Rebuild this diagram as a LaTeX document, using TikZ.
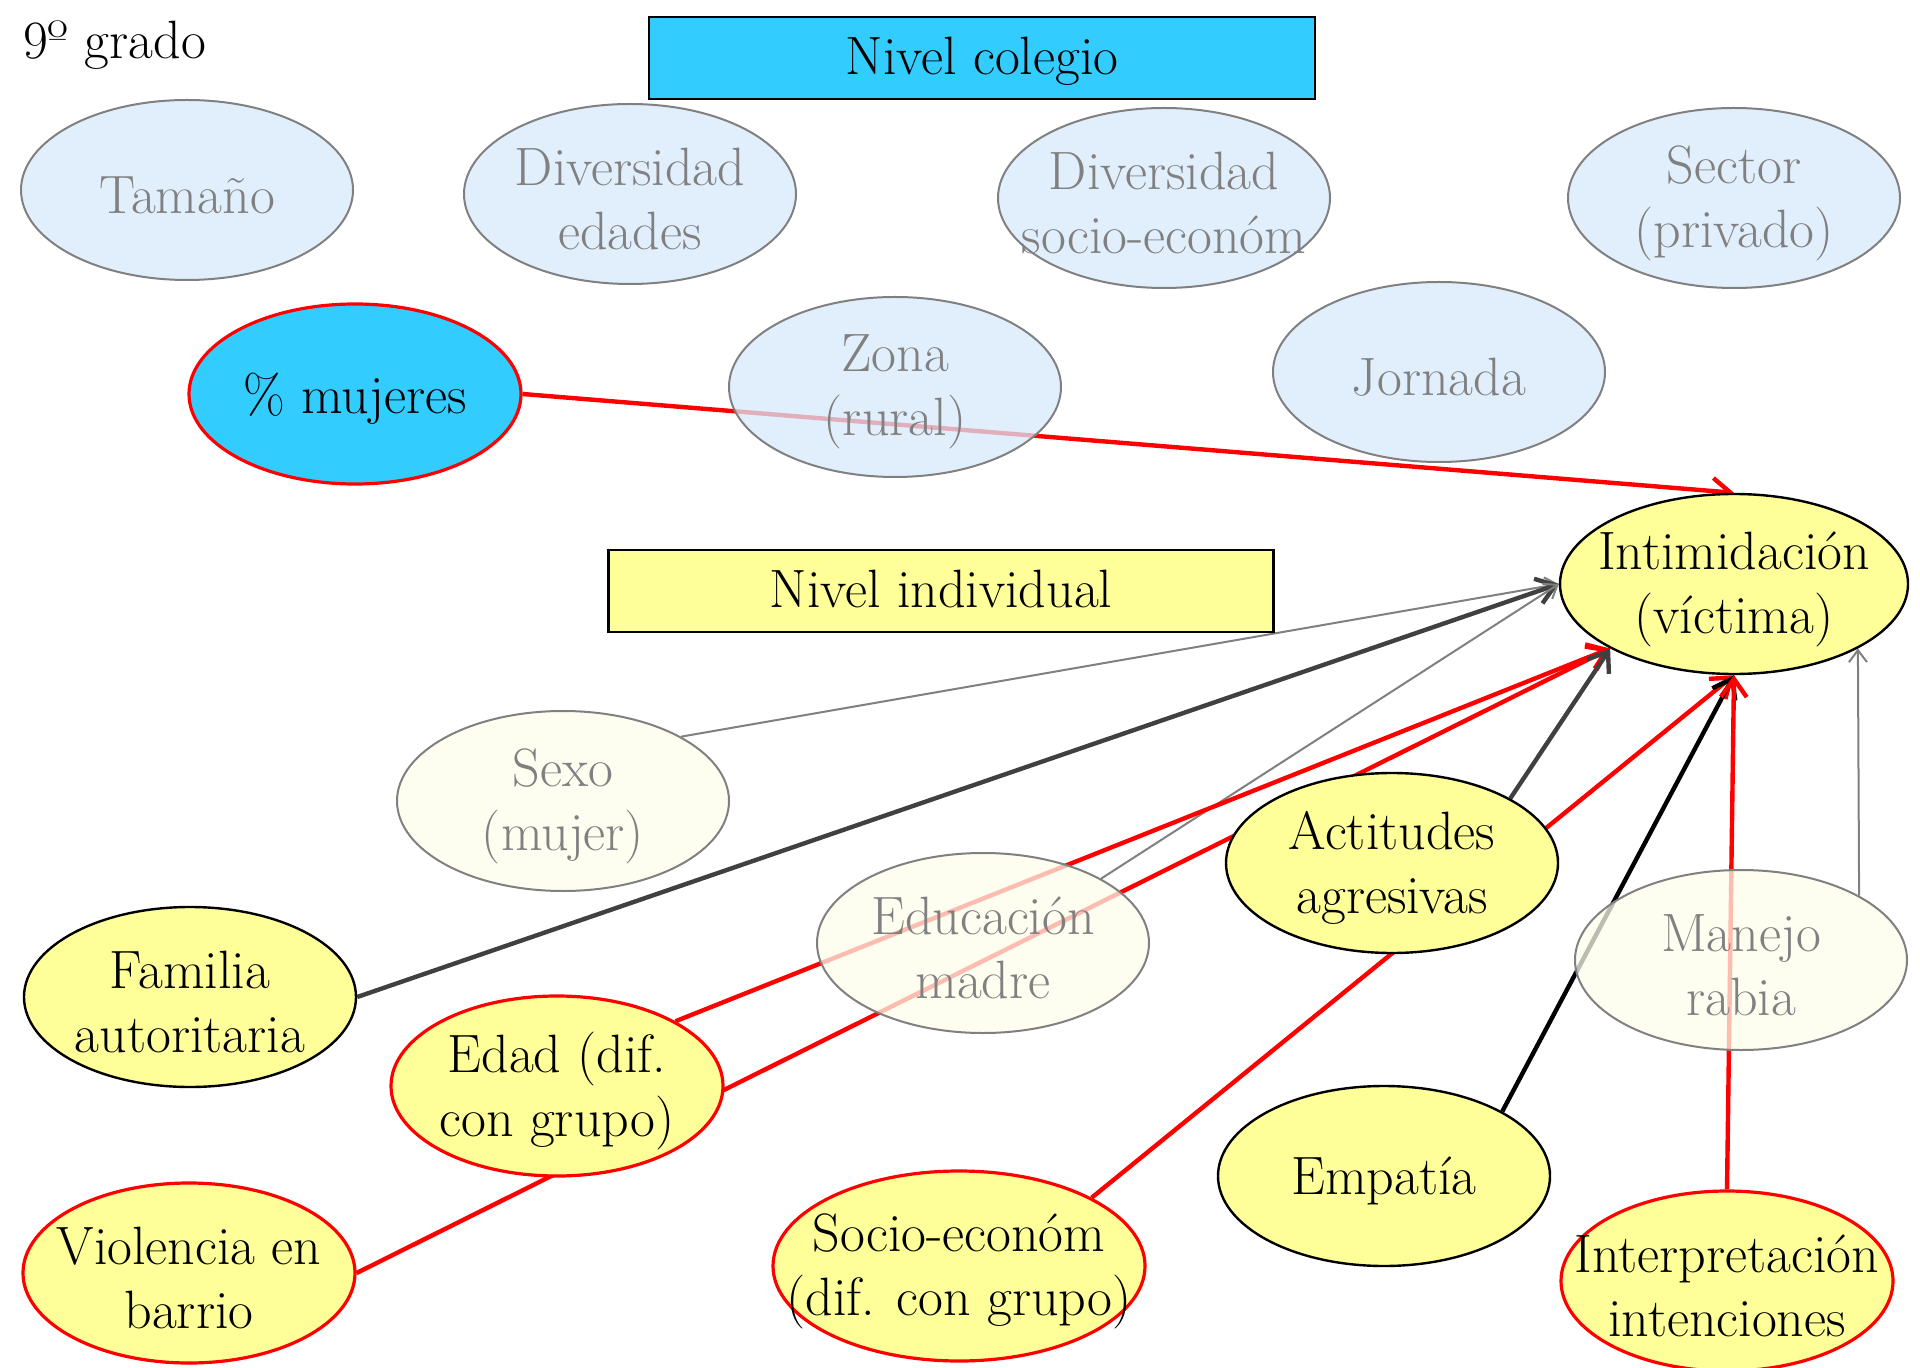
\documentclass[tikz,border=0pt]{standalone}
\usetikzlibrary{shapes.geometric,arrows.meta,backgrounds}
\definecolor{celeste}{HTML}{33CCFF}
\definecolor{amarillo}{HTML}{FFFF99}
\definecolor{azulclaro}{HTML}{D7EAFC}
\definecolor{crema}{HTML}{FCFCEB}
\definecolor{gris}{HTML}{808080}
\definecolor{grisosc}{HTML}{404040}
\newcommand{\txtgrande}{\fontsize{27}{32}\selectfont}

\begin{document}
\begin{tikzpicture}[x=0.5pt,y=-0.5pt,
            every node/.style={font=\txtgrande,align=center},
            every label/.style={font=\txtgrande,align=center,yshift=-2.5pt},
            elip/.style={ellipse,minimum width=166pt,minimum height=90pt,inner sep=0pt},
            colegio/.style={elip,draw=gris,line width=1pt,fill=azulclaro,fill opacity=0.75,label={[text=gris]center:#1}},
            tenue/.style={elip,draw=gris,line width=1pt,fill=crema,fill opacity=0.75,label={[text=gris]center:#1}},
            indiv/.style={elip,draw=black,line width=1.2pt,fill=amarillo,label={center:#1}},
            indivroja/.style={elip,draw=red,line width=1.6pt,fill=amarillo,label={center:#1}},
            caja/.style={draw=black,line width=1.2pt,minimum height=41pt,inner sep=0pt,text height=22pt,text depth=5pt},
            roja/.style={draw=red,line width=2.2pt,-{Straight Barb[length=9pt,width=13pt]}},
            oscura/.style={draw=grisosc,line width=2.2pt,-{Straight Barb[length=9pt,width=13pt]}},
            negra/.style={draw=black,line width=2.2pt,-{Straight Barb[length=9pt,width=13pt]}},
            fina/.style={draw=gris,line width=1pt,-{Straight Barb[length=6pt,width=9pt]}}]
            \useasboundingbox (0,0) rectangle (1920,1368);
            \node[anchor=base west] (grado) at (16,59) {9º grado};
            \node[caja,fill=celeste,minimum width=333pt] (nivcol) at (982,58) {Nivel colegio};
            \node[caja,fill=amarillo,minimum width=332.5pt] (nivind) at (941,591) {Nivel individual};
            \node[colegio={Tamaño}] (tamano) at (187,190) {};
            \node[colegio={Diversidad\\edades}] (divedad) at (630,194) {};
            \node[colegio={Diversidad\\socio-económ}] (divsocio) at (1164,198) {};
            \node[colegio={Sector\\(privado)}] (sector) at (1734,198) {};
            \node[elip,draw=red,line width=1.6pt,fill=celeste,label={center:\% mujeres}] (mujeres) at (355,394) {};
            \node[colegio={Zona\\(rural)}] (zona) at (895,387) {};
            \node[colegio={Jornada}] (jornada) at (1439,372) {};
            \node[indiv={Intimidación\\(víctima)},minimum width=174pt] (intimid) at (1734,584) {};
            \node[tenue={Sexo\\(mujer)}] (sexo) at (563,801) {};
            \node[indiv={Familia\\autoritaria}] (familia) at (190,997) {};
            \node[tenue={Educación\\madre}] (educmadre) at (983,943) {};
            \node[indiv={Actitudes\\agresivas}] (actitudes) at (1392,863) {};
            \node[tenue={Manejo\\rabia}] (manejo) at (1741,960) {};
            \node[indivroja={Edad (dif.\\con grupo)}] (edad) at (557,1086) {};
            \node[indiv={Empatía}] (empatia) at (1384,1176) {};
            \node[indivroja={Violencia en\\barrio}] (violencia) at (189,1273) {};
            \node[indivroja={Socio-económ\\(dif. con grupo)},minimum width=186pt,minimum height=95pt] (socioecon) at (959,1266) {};
            \node[indivroja={Interpretación\\intenciones}] (interpret) at (1727,1281) {};
            \begin{scope}[on background layer]
            \draw[roja] (mujeres.east) -- (intimid.north);
            \draw[fina] (sexo.north east) -- (intimid.west);
            \draw[oscura] (familia.east) -- (intimid.west);
            \draw[fina] (educmadre.north east) -- (intimid.west);
            \draw[roja] (edad.north east) -- (intimid.south west);
            \draw[roja] (violencia.east) -- (intimid.south west);
            \draw[oscura] (actitudes.north east) -- (intimid.south west);
            \draw[roja] (socioecon.north east) -- (intimid.south);
            \draw[negra] (empatia.north east) -- (intimid.south);
            \draw[roja] (interpret.north) -- (intimid.south);
            \draw[fina] (manejo.north east) -- (intimid.south east);
            \end{scope}
        \end{tikzpicture}
\end{document}
